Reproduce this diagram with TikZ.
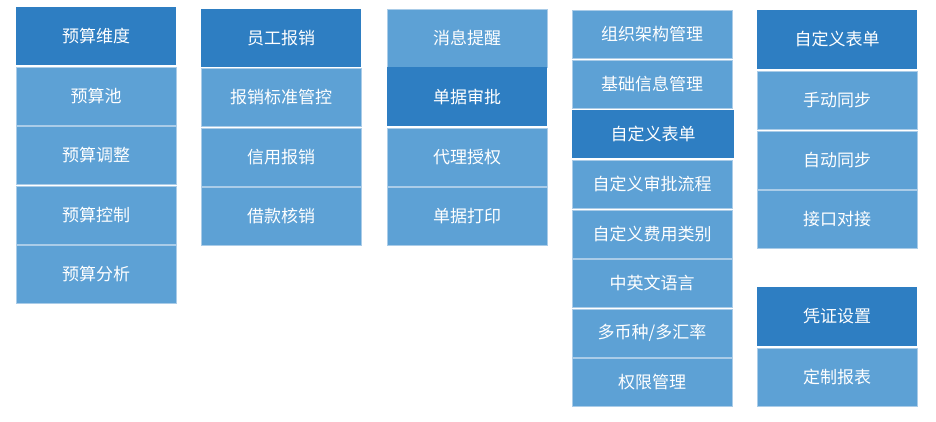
\documentclass[tikz,border=0pt]{standalone}
\usepackage{fontspec}
\setmainfont{Noto Sans CJK SC}
\definecolor{dkblue}{RGB}{46,126,194}
\definecolor{ltblue}{RGB}{93,161,213}
\definecolor{ltedge}{RGB}{170,204,232}
\tikzset{
  cell/.style={anchor=north west, inner sep=0pt, outer sep=0pt, text=white,
    font=\fontsize{17}{19}\selectfont, minimum width=160pt},
  dk/.style={cell, fill=dkblue},
  lt/.style={cell, fill=ltblue, draw=ltedge, line width=0.8pt},
}
\begin{document}
\begin{tikzpicture}[x=1pt,y=-1pt]
\useasboundingbox[fill=white] (0,0) rectangle (936,421);
% column 1
\node[dk, minimum height=58pt] (c1a) at (16,7) {预算维度};
\node[lt, minimum height=58pt] (c1b) at (16,67) {预算池};
\node[lt, minimum height=58pt] (c1c) at (16,126) {预算调整};
\node[lt, minimum height=58pt] (c1d) at (16,186) {预算控制};
\node[lt, minimum height=58pt] (c1e) at (16,245) {预算分析};
% column 2
\node[dk, minimum height=58pt] (c2a) at (201,9) {员工报销};
\node[lt, minimum height=58pt] (c2b) at (201,68) {报销标准管控};
\node[lt, minimum height=58pt] (c2c) at (201,128) {信用报销};
\node[lt, minimum height=58pt] (c2d) at (201,187) {借款核销};
% column 3
\node[lt, minimum height=58pt] (c3a) at (387,9) {消息提醒};
\node[dk, minimum height=59pt] (c3b) at (387,67) {单据审批};
\node[lt, minimum height=58pt] (c3c) at (387,128) {代理授权};
\node[lt, minimum height=58pt] (c3d) at (387,187) {单据打印};
% column 4
\node[lt, minimum height=48pt] (c4a) at (572,10) {组织架构管理};
\node[lt, minimum height=48pt] (c4b) at (572,60) {基础信息管理};
\node[dk, minimum height=48pt, minimum width=162pt] (c4c) at (572,110) {自定义表单};
\node[lt, minimum height=48pt] (c4d) at (572,160) {自定义审批流程};
\node[lt, minimum height=48pt] (c4e) at (572,210) {自定义费用类别};
\node[lt, minimum height=48pt] (c4f) at (572,259) {中英文语言};
\node[lt, minimum height=48pt] (c4g) at (572,309) {多币种/多汇率};
\node[lt, minimum height=48pt] (c4h) at (572,358) {权限管理};
% column 5
\node[dk, minimum height=59pt] (c5a) at (757,10) {自定义表单};
\node[lt, minimum height=58pt] (c5b) at (757,71) {手动同步};
\node[lt, minimum height=58pt] (c5c) at (757,131) {自动同步};
\node[lt, minimum height=58pt] (c5d) at (757,190) {接口对接};
\node[dk, minimum height=59pt] (c5e) at (757,287) {凭证设置};
\node[lt, minimum height=58pt] (c5f) at (757,348) {定制报表};
\end{tikzpicture}
\end{document}
